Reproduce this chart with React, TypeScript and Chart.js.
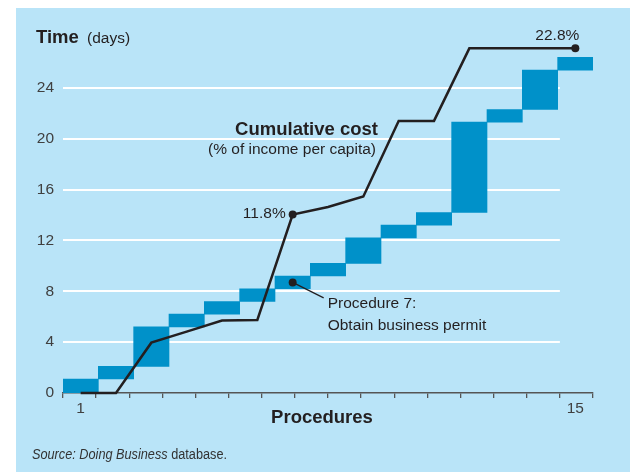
import React, { useEffect, useRef } from 'react';
import { Chart, registerables } from 'chart.js';

Chart.register(...registerables);

// ---- Data ----
const procedures = ['1', '2', '3', '4', '5', '6', '7', '8', '9', '10', '11', '12', '13', '14', '15'];
// Time (days): start and end of each procedure
const timeStart = [0, 1.1, 2.1, 5.2, 6.2, 7.2, 8.2, 9.2, 10.2, 12.2, 13.2, 14.2, 21.3, 22.3, 25.4];
const timeEnd = [1.1, 2.1, 5.2, 6.2, 7.2, 8.2, 9.2, 10.2, 12.2, 13.2, 14.2, 21.3, 22.3, 25.4, 26.4];
// Cumulative cost (% of income per capita)
const cumulativeCost = [0, 0, 3.33, 4.06, 4.79, 4.83, 11.8, 12.3, 13.0, 18.0, 18.0, 22.8, 22.8, 22.8, 22.8];
const yTicks = [0, 4, 8, 12, 16, 20, 24];
const xTickLabels = ['1', '15'];
const highlightedCost = [6, 14]; // indices with a marker and label
const highlightedProcedure = 6; // Procedure 7

const BG = '#b9e4f8';
const BAR = '#0091c9';
const INK = '#231f20';
const TICK = '#404040';
const FONT = "'Liberation Sans', Arial, sans-serif";

const overlay = {
  id: 'overlay',
  beforeDatasetsDraw(chart: any) {
    const { ctx } = chart;
    const y = chart.scales.y;
    const xt = chart.scales.xt;
    ctx.save();
    ctx.strokeStyle = '#ffffff';
    ctx.lineWidth = 2;
    yTicks.filter((v) => v > 0).forEach((v) => {
      const py = Math.round(y.getPixelForValue(v));
      ctx.beginPath();
      ctx.moveTo(xt.getPixelForValue(0), py);
      ctx.lineTo(xt.getPixelForValue(15), py);
      ctx.stroke();
    });
    ctx.restore();
  },
  afterDatasetsDraw(chart: any) {
    const { ctx } = chart;
    const x = chart.scales.x;
    const y = chart.scales.y;
    const y2 = chart.scales.y2;
    ctx.save();
    ctx.fillStyle = INK;
    ctx.textBaseline = 'alphabetic';

    // Procedure 7 annotation
    const i = highlightedProcedure;
    const dx = x.getPixelForValue(i);
    const dy = y.getPixelForValue((timeStart[i] + timeEnd[i]) / 2);
    ctx.beginPath();
    ctx.arc(dx, dy, 4, 0, Math.PI * 2);
    ctx.fill();
    ctx.strokeStyle = INK;
    ctx.lineWidth = 1.3;
    ctx.beginPath();
    ctx.moveTo(dx, dy);
    ctx.lineTo(dx + 31, dy + 15.5);
    ctx.stroke();
    ctx.font = `15.5px ${FONT}`;
    ctx.textAlign = 'left';
    ctx.fillText('Procedure 7:', dx + 35, dy + 26);
    ctx.fillText('Obtain business permit', dx + 35, dy + 47.5);

    // Cost labels
    const p7x = x.getPixelForValue(highlightedCost[0]);
    const p7y = y2.getPixelForValue(cumulativeCost[highlightedCost[0]]);
    ctx.textAlign = 'right';
    ctx.fillText(`${cumulativeCost[highlightedCost[0]].toFixed(1)}%`, p7x - 7, p7y + 3.5);
    const p15x = x.getPixelForValue(highlightedCost[1]);
    const p15y = y2.getPixelForValue(cumulativeCost[highlightedCost[1]]);
    ctx.textAlign = 'center';
    ctx.fillText(`${cumulativeCost[highlightedCost[1]].toFixed(1)}%`, p15x - 18, p15y - 8.5);

    // Series label
    ctx.textAlign = 'right';
    ctx.font = `bold 18.5px ${FONT}`;
    ctx.fillText('Cumulative cost', 362, 127);
    ctx.font = `15.5px ${FONT}`;
    ctx.fillText('(% of income per capita)', 360, 146);

    // Axis titles
    ctx.textAlign = 'left';
    ctx.font = `bold 18.5px ${FONT}`;
    ctx.fillText('Time', 20, 35);
    ctx.font = `15.5px ${FONT}`;
    ctx.fillText('(days)', 71, 35);
    ctx.textAlign = 'center';
    ctx.font = `bold 18.5px ${FONT}`;
    ctx.fillText('Procedures', 306, 415);

    // Source (condensed horizontally)
    ctx.save();
    ctx.translate(16, 451);
    ctx.scale(0.82, 1);
    ctx.textAlign = 'left';
    ctx.fillStyle = '#333333';
    ctx.font = `italic 15.5px ${FONT}`;
    const src1 = 'Source: Doing Business';
    ctx.fillText(src1, 0, 0);
    const w = ctx.measureText(src1).width;
    ctx.font = `15.5px ${FONT}`;
    ctx.fillText(' database.', w, 0);
    ctx.restore();
    ctx.restore();
  },
};

export default function App() {
  const ref = useRef<HTMLCanvasElement>(null);
  useEffect(() => {
    const chart = new Chart(ref.current as HTMLCanvasElement, {
      type: 'bar',
      data: {
        labels: procedures,
        datasets: [
          {
            type: 'line',
            label: 'Cumulative cost',
            data: cumulativeCost,
            xAxisID: 'x',
            yAxisID: 'y2',
            borderColor: INK,
            borderWidth: 2.5,
            backgroundColor: INK,
            pointBackgroundColor: INK,
            pointBorderWidth: 0,
            pointRadius: (c: any) => (highlightedCost.includes(c.dataIndex) ? 4 : 0),
            tension: 0,
            order: 0,
            clip: false,
          } as any,
          {
            type: 'bar',
            label: 'Time',
            data: timeStart.map((s, k) => [s, timeEnd[k]]),
            xAxisID: 'x',
            yAxisID: 'y',
            backgroundColor: BAR,
            borderWidth: 0,
            barPercentage: 1,
            categoryPercentage: 1,
            order: 1,
          } as any,
        ],
      },
      options: {
        responsive: false,
        animation: false,
        devicePixelRatio: 1,
        layout: { padding: { top: 29, right: 37, left: 0, bottom: 0 } },
        plugins: { legend: { display: false }, tooltip: { enabled: false } },
        scales: {
          x: {
            type: 'category',
            position: 'bottom',
            weight: 1,
            offset: true,
            grid: { display: false, drawTicks: false },
            border: { display: false },
            ticks: {
              autoSkip: false,
              maxRotation: 0,
              padding: 1,
              color: TICK,
              font: { family: FONT, size: 15.5 },
              callback: (_v: any, idx: number) =>
                xTickLabels.includes(procedures[idx]) ? procedures[idx] : '',
            },
            afterFit: (s: any) => {
              s.height = 74;
            },
          },
          xt: {
            type: 'linear',
            position: 'bottom',
            weight: 0,
            min: 0,
            max: 16,
            offset: false,
            ticks: { display: false, stepSize: 1 },
            grid: {
              offset: false,
              drawOnChartArea: false,
              drawTicks: true,
              tickLength: 5,
              color: '#555',
              lineWidth: 1.3,
            },
            border: { display: true, color: '#555', width: 1.5 },
            afterFit: (s: any) => {
              s.height = 5;
            },
          },
          y: {
            type: 'linear',
            position: 'left',
            min: 0,
            max: 28,
            afterBuildTicks: (s: any) => {
              s.ticks = [...yTicks, 28].map((v) => ({ value: v }));
            },
            grid: { display: false, drawTicks: false },
            border: { display: false },
            ticks: {
              padding: 9,
              color: TICK,
              font: { family: FONT, size: 15.5 },
              callback: (v: any) => (v <= 24 ? String(v) : ''),
            },
            afterFit: (s: any) => {
              s.width = 47;
            },
          },
          y2: {
            type: 'linear',
            display: false,
            min: 0,
            max: 23.55,
          },
        },
      },
      plugins: [overlay],
    } as any);
    return () => chart.destroy();
  }, []);
  return (
    <div style={{ position: 'absolute', left: 16, top: 8, width: 614, height: 464, background: BG }}>
      <canvas ref={ref} width={614} height={464} style={{ display: 'block', width: 614, height: 464 }} />
    </div>
  );
}
